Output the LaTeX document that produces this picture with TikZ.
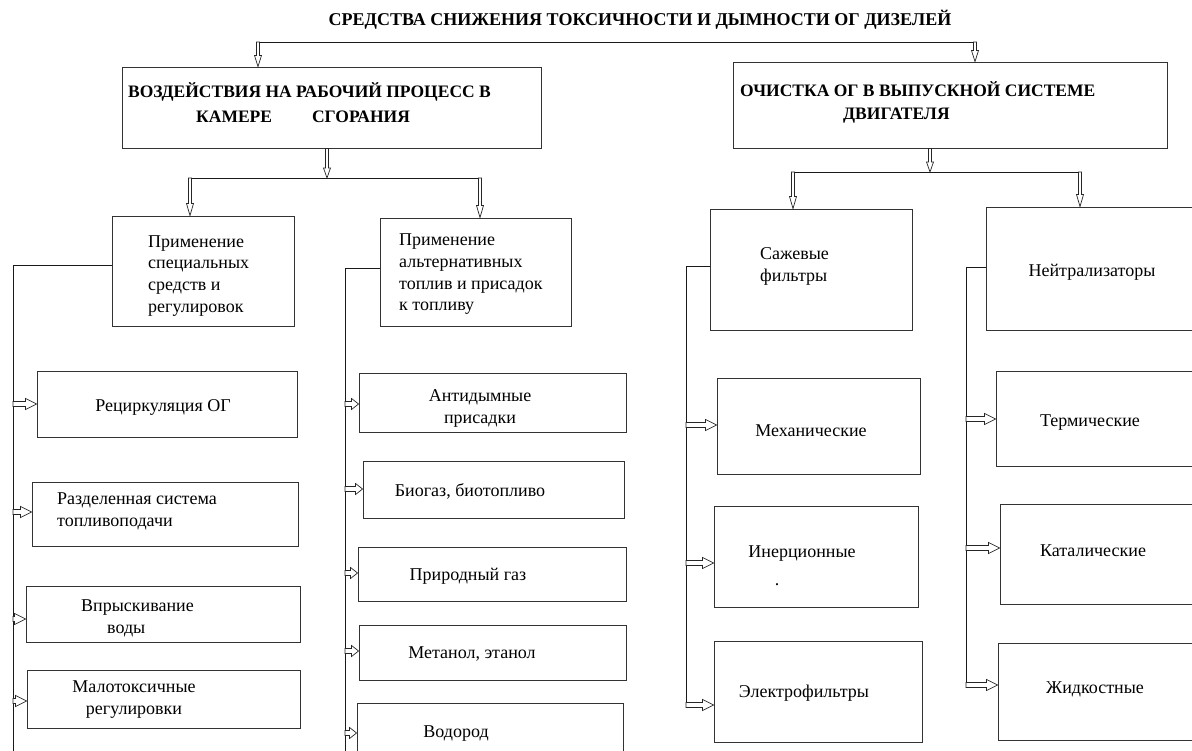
\documentclass[tikz,border=0pt]{standalone}
\usepackage{fontspec}
\setmainfont{Liberation Serif}
\usetikzlibrary{calc,fit}
\tikzset{
 box/.style={draw=black!80, line width=0.9pt, inner sep=0pt},
 txt/.style={inner sep=0pt, font=\fontsize{18}{22}\selectfont, text=black},
 hd/.style={inner sep=0pt, font=\fontsize{17.5}{25}\selectfont\bfseries, text=black},
 ln/.style={draw=black!90, line width=0.9pt},
 blk/.style={draw=black!85, line width=0.7pt, fill=white, line join=miter},
}
% horizontal block arrow: spine coordinate, target box, y, head length
\newcommand\harr[4]{%
 \draw[blk] let \p1=(#1), \p2=(#2.west), \p3=(0,#3) in
  (\x1,\y3+2.5pt) -- (\x2-#4pt,\y3+2.5pt) -- (\x2-#4pt,\y3+5.5pt) -- (\x2,\y3)
  -- (\x2-#4pt,\y3-5.5pt) -- (\x2-#4pt,\y3-2.5pt) -- (\x1,\y3-2.5pt) -- cycle;}
% vertical block arrow: start point, end point (tip y), head length
\newcommand\varr[3]{%
 \draw[blk] let \p1=(#1), \p2=(#2) in
  (\x1-1.5pt,\y1) -- (\x1-1.5pt,\y2+#3pt) -- (\x1-3.5pt,\y2+#3pt) -- (\x1,\y2)
  -- (\x1+3.5pt,\y2+#3pt) -- (\x1+1.5pt,\y2+#3pt) -- (\x1+1.5pt,\y1) -- cycle;}
\begin{document}
\begin{tikzpicture}[x=1pt,y=-1pt]
\useasboundingbox (0,0) rectangle (1192,751);
\clip (0,0) rectangle (1192,751);
\fill[white] (0,0) rectangle (1192,751);

% title
\node[hd, anchor=base, font=\fontsize{18}{25}\selectfont\bfseries] (T) at (640,26) {СРЕДСТВА СНИЖЕНИЯ ТОКСИЧНОСТИ И ДЫМНОСТИ ОГ ДИЗЕЛЕЙ};

% level 1
\node[box, fit={(122,67)(541,148)}] (A) {};
\node[hd, anchor=base west] (tA1) at (128,98) {ВОЗДЕЙСТВИЯ НА РАБОЧИЙ ПРОЦЕСС В};
\node[hd, anchor=base west] (tA2) at (196,123) {КАМЕРЕ\hspace{40pt}СГОРАНИЯ};
\node[box, fit={(733,62)(1167,148)}] (B) {};
\node[hd, anchor=base west] (tB1) at (740,97) {ОЧИСТКА ОГ В ВЫПУСКНОЙ СИСТЕМЕ};
\node[hd, anchor=base west] (tB2) at (843,120) {ДВИГАТЕЛЯ};

% level 2
\node[box, fit={(112,216)(294,326)}] (C) {};
\node[txt, anchor=base west, align=left] (tC) at (148,313) {Применение\\специальных\\средств и\\регулировок};
\node[box, fit={(380,218)(571,326)}] (D) {};
\node[txt, anchor=base west, align=left, font=\fontsize{18}{21.7}\selectfont] (tD) at (399,311) {Применение\\альтернативных\\топлив и присадок\\к топливу};
\node[box, fit={(710,209)(912,330)}] (N) {};
\node[txt, anchor=base west, align=left] (tN) at (760,282) {Сажевые\\фильтры};
\node[box, fit={(986,207)(1200,330)}] (O) {};
\node[txt, anchor=base] (tO) at (1092,277) {Нейтрализаторы};

% level 3, left
\node[box, fit={(37,371)(297,437)}] (E) {};
\node[txt, anchor=base] (tE) at (163,411) {Рециркуляция ОГ};
\node[box, fit={(32,482)(298,546)}] (F) {};
\node[txt, anchor=base west, align=left] (tF) at (57,526) {Разделенная система\\топливоподачи};
\node[box, fit={(26,586)(300,642)}] (G) {};
\node[txt, anchor=base west, align=left] (tG) at (81,633) {Впрыскивание\\\hspace*{26pt}воды};
\node[box, fit={(27,670)(300,728)}] (H) {};
\node[txt, anchor=base, align=center] (tH) at (134,714) {Малотоксичные\\регулировки};

\node[box, fit={(359,373)(626,432)}] (I) {};
\node[txt, anchor=base, align=center] (tI) at (480,423) {Антидымные\\присадки};
\node[box, fit={(363,461)(624,518)}] (J) {};
\node[txt, anchor=base] (tJ) at (470,496) {Биогаз, биотопливо};
\node[box, fit={(358,547)(626,601)}] (K) {};
\node[txt, anchor=base] (tK) at (468,580) {Природный газ};
\node[box, fit={(359,625)(626,680)}] (L) {};
\node[txt, anchor=base] (tL) at (472,658) {Метанол, этанол};
\node[box, fit={(357,703)(623,770)}] (M) {};
\node[txt, anchor=base] (tM) at (456,737) {Водород};

% level 3, right
\node[box, fit={(717,378)(920,474)}] (P) {};
\node[txt, anchor=base] (tP) at (811,436) {Механические};
\node[box, fit={(714,506)(918,607)}] (Q) {};
\node[txt, anchor=base] (tQ) at (802,557) {Инерционные};
\node[txt, anchor=base] (tQd) at (777,585) {.};
\node[box, fit={(714,641)(922,742)}] (R) {};
\node[txt, anchor=base] (tR) at (804,697) {Электрофильтры};

\node[box, fit={(996,371)(1200,466)}] (S) {};
\node[txt, anchor=base] (tS) at (1090,426) {Термические};
\node[box, fit={(1000,504)(1200,604)}] (U1) {};
\node[txt, anchor=base] (tT) at (1093,556) {Каталические};
\node[box, fit={(998,643)(1200,740)}] (U2) {};
\node[txt, anchor=base] (tU) at (1095,693) {Жидкостные};

% ---- connectors ----
% top
\coordinate (tl) at (258,42);
\coordinate (tr) at (975,42);
\draw[ln] (tl) -- (tr);
\varr{tl}{tl |- A.north}{11}
\varr{tr}{tr |- B.north}{11}

% A -> C, D
\coordinate (am) at (327,178);
\coordinate (al) at (190,178);
\coordinate (ar) at (480,178);
\draw[ln] (188,178) -- (ar);
\varr{am |- A.south}{am}{10}
\varr{al}{al |- C.north}{12}
\varr{ar}{ar |- D.north}{12}

% B -> N, O
\coordinate (bm) at (930,172);
\coordinate (bl) at (793,172);
\coordinate (br) at (1080,172);
\draw[ln] (bl) -- (br);
\varr{bm |- B.south}{bm}{10}
\varr{bl}{bl |- N.north}{12}
\varr{br}{br |- O.north}{12}

% spine 1 (C)
\coordinate (s1) at (13,265);
\draw[ln] (C.west |- s1) -- (s1) -- (13,751);
\harr{s1}{E}{404}{11}
\harr{s1}{F}{512}{11}
\harr{s1}{G}{619}{11}
\harr{s1}{H}{701}{11}

% spine 2 (D)
\coordinate (s2) at (345,268);
\draw[ln] (D.west |- s2) -- (s2) -- (345,751);
\harr{s2}{I}{404}{7}
\harr{s2}{J}{489}{7}
\harr{s2}{K}{573}{7}
\harr{s2}{L}{651}{7}
\harr{s2}{M}{733}{7}

% spine 3 (N)
\coordinate (s3) at (686,266);
\draw[ln] (N.west |- s3) -- (s3) -- (686,705);
\harr{s3}{P}{425}{11}
\harr{s3}{Q}{563}{11}
\harr{s3}{R}{705}{11}

% spine 4 (O)
\coordinate (s4) at (966,267);
\draw[ln] (O.west |- s4) -- (s4) -- (966,685);
\harr{s4}{S}{419}{11}
\harr{s4}{U1}{548}{11}
\harr{s4}{U2}{685}{11}
\end{tikzpicture}
\end{document}
